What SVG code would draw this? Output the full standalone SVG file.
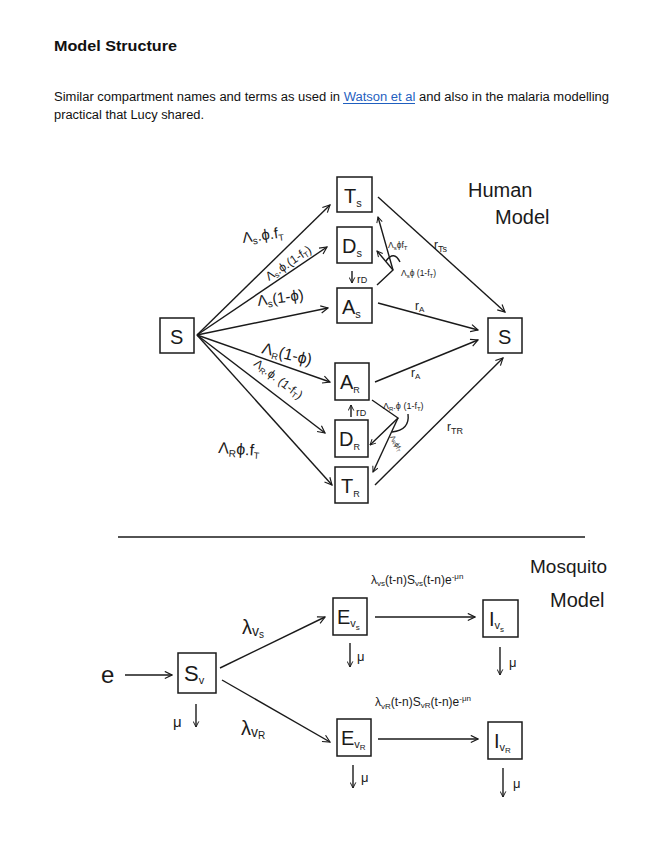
<svg xmlns="http://www.w3.org/2000/svg" width="672" height="866" viewBox="0 0 672 866">
<style>
.hw{font-family:"Liberation Sans","DejaVu Sans",sans-serif;fill:#1a1a1a}
.box{fill:none;stroke:#1a1a1a;stroke-width:1.5}
.ln{fill:none;stroke:#1a1a1a;stroke-width:1.4}
.doc{font-family:"Liberation Sans",Arial,sans-serif;fill:#111}
</style>
<defs>
<marker id="ah" viewBox="0 0 10 10" refX="9" refY="5" markerWidth="9" markerHeight="9" orient="auto" markerUnits="userSpaceOnUse"><path d="M1,1 L9,5 L1,9" fill="none" stroke="#1a1a1a" stroke-width="1.3"/></marker>
<marker id="ahs" viewBox="0 0 10 10" refX="9" refY="5" markerWidth="7" markerHeight="7" orient="auto" markerUnits="userSpaceOnUse"><path d="M1,1 L9,5 L1,9" fill="none" stroke="#1a1a1a" stroke-width="1.4"/></marker>
</defs>
<rect width="672" height="866" fill="#fff"/>
<g id="header">
<text class="doc" x="54" y="51" font-size="15.5" font-weight="bold" textLength="123" lengthAdjust="spacingAndGlyphs">Model Structure</text>
<text class="doc" x="54" y="101" font-size="12.5" textLength="555" lengthAdjust="spacingAndGlyphs">Similar compartment names and terms as used in <tspan fill="#1f5fbf">Watson et al</tspan> and also in the malaria modelling</text>
<line x1="343" y1="103.5" x2="415" y2="103.5" stroke="#1f5fbf" stroke-width="1"/>
<text class="doc" x="54" y="119" font-size="12.5" textLength="150" lengthAdjust="spacingAndGlyphs">practical that Lucy shared.</text>
</g>
<g id="human-label"><text class="hw" x="468" y="197" font-size="20">Human</text><text class="hw" x="495" y="224" font-size="20">Model</text></g>
<g id="S_left"><rect class="box" x="160" y="318" width="34" height="35"/><text class="hw" x="170" y="344" font-size="20">S</text></g>
<g id="T_s"><rect class="box" x="337" y="177" width="35" height="35"/><text class="hw" x="344" y="203" font-size="20">T<tspan font-size="11" dy="4">s</tspan></text></g>
<g id="D_s"><rect class="box" x="337" y="227" width="35" height="36"/><text class="hw" x="342" y="253" font-size="20">D<tspan font-size="11" dy="4">s</tspan></text></g>
<g id="A_s"><rect class="box" x="337" y="288" width="35" height="35"/><text class="hw" x="342" y="314" font-size="20">A<tspan font-size="11" dy="4">s</tspan></text></g>
<g id="S_right"><rect class="box" x="488" y="318" width="34" height="35"/><text class="hw" x="498" y="344" font-size="20">S</text></g>
<g id="A_R"><rect class="box" x="335" y="363" width="34" height="37"/><text class="hw" x="340" y="389" font-size="20">A<tspan font-size="9" dy="4">R</tspan></text></g>
<g id="D_R"><rect class="box" x="335" y="420" width="33" height="37"/><text class="hw" x="339" y="446" font-size="20">D<tspan font-size="9" dy="4">R</tspan></text></g>
<g id="T_R"><rect class="box" x="335" y="467" width="33" height="36"/><text class="hw" x="341" y="493" font-size="20">T<tspan font-size="9" dy="4">R</tspan></text></g>
<g id="S_v"><rect class="box" x="178" y="653" width="38" height="40"/><text class="hw" x="184" y="681" font-size="22">S<tspan font-size="11" dy="3">v</tspan></text></g>
<g id="E_vs"><rect class="box" x="333" y="598" width="34" height="37"/><text class="hw" x="337" y="624" font-size="20">E<tspan font-size="11" dy="3">v</tspan><tspan font-size="8" dy="3">s</tspan></text></g>
<g id="I_vs"><rect class="box" x="483" y="600" width="35" height="37"/><text class="hw" x="489" y="626" font-size="20">I<tspan font-size="11" dy="3">v</tspan><tspan font-size="8" dy="3">s</tspan></text></g>
<g id="E_vR"><rect class="box" x="337" y="719" width="34" height="37"/><text class="hw" x="341" y="745" font-size="20">E<tspan font-size="11" dy="3">v</tspan><tspan font-size="8" dy="2">R</tspan></text></g>
<g id="I_vR"><rect class="box" x="488" y="722" width="34" height="37"/><text class="hw" x="494" y="748" font-size="20">I<tspan font-size="11" dy="3">v</tspan><tspan font-size="8" dy="2">R</tspan></text></g>
<g id="mosquito-label"><text class="hw" x="530" y="573" font-size="19">Mosquito</text><text class="hw" x="550" y="607" font-size="20">Model</text></g>
<line x1="118" y1="537" x2="585" y2="537" stroke="#1a1a1a" stroke-width="1.3"/>
<g id="connectors">
<line class="ln" x1="197" y1="335" x2="330" y2="205" marker-end="url(#ah)"/>
<line class="ln" x1="197" y1="335" x2="327" y2="247" marker-end="url(#ah)"/>
<line class="ln" x1="197" y1="335" x2="328" y2="308" marker-end="url(#ah)"/>
<line class="ln" x1="197" y1="335" x2="330" y2="382" marker-end="url(#ah)"/>
<line class="ln" x1="197" y1="335" x2="325" y2="433" marker-end="url(#ah)"/>
<line class="ln" x1="197" y1="335" x2="332" y2="485" marker-end="url(#ah)"/>
<line class="ln" x1="378" y1="197" x2="505" y2="312" marker-end="url(#ah)"/>
<line class="ln" x1="378" y1="303" x2="478" y2="330" marker-end="url(#ah)"/>
<line class="ln" x1="375" y1="382" x2="478" y2="340" marker-end="url(#ah)"/>
<line class="ln" x1="375" y1="485" x2="503" y2="358" marker-end="url(#ah)"/>
<polyline class="ln" points="377,285 393,270 378,217" marker-end="url(#ahs)"/>
<line class="ln" x1="393" y1="270" x2="377" y2="251" marker-end="url(#ahs)"/>
<path class="ln" d="M386,261 Q394,250 400,262" stroke-width="1"/>
<polyline class="ln" points="372,400 398,418 370,445" marker-end="url(#ahs)"/>
<line class="ln" x1="398" y1="418" x2="373" y2="472" marker-end="url(#ahs)"/>
<path class="ln" d="M408,414 Q410,430 392,432" stroke-width="1"/>
<line class="ln" x1="352" y1="271" x2="352" y2="283" marker-end="url(#ahs)"/>
<line class="ln" x1="351" y1="417" x2="351" y2="405" marker-end="url(#ahs)"/>
<line class="ln" x1="125" y1="675" x2="172" y2="675" marker-end="url(#ah)"/>
<line class="ln" x1="220" y1="668" x2="325" y2="617" marker-end="url(#ah)"/>
<line class="ln" x1="222" y1="680" x2="330" y2="742" marker-end="url(#ah)"/>
<line class="ln" x1="375" y1="617" x2="475" y2="617" marker-end="url(#ah)"/>
<line class="ln" x1="378" y1="739" x2="478" y2="739" marker-end="url(#ah)"/>
<line class="ln" x1="196" y1="704" x2="196" y2="727" marker-end="url(#ahs)"/>
<line class="ln" x1="350" y1="643" x2="350" y2="667" marker-end="url(#ahs)"/>
<line class="ln" x1="500" y1="647" x2="500" y2="675" marker-end="url(#ahs)"/>
<line class="ln" x1="353" y1="765" x2="353" y2="788" marker-end="url(#ahs)"/>
<line class="ln" x1="503" y1="768" x2="503" y2="797" marker-end="url(#ahs)"/>
</g>
<g id="labels" class="hw">
<text x="243" y="243" font-size="15" transform="rotate(-8 243 243)">Λ<tspan font-size="10" dy="3">s</tspan><tspan dy="-3">.ϕ.f</tspan><tspan font-size="9" dy="3">T</tspan></text>
<text x="269" y="281" font-size="12" transform="rotate(-34 269 281)">Λ<tspan font-size="8" dy="2">s</tspan><tspan dy="-2">.ϕ.(1-f</tspan><tspan font-size="8" dy="2">T</tspan><tspan dy="-2">)</tspan></text>
<text x="258" y="306" font-size="15" transform="rotate(-8 258 306)">Λ<tspan font-size="10" dy="3">s</tspan><tspan dy="-3">(1-ϕ)</tspan></text>
<text x="261" y="353" font-size="16" transform="rotate(14 261 353)">Λ<tspan font-size="9" dy="3">R</tspan><tspan dy="-3">(1-ϕ)</tspan></text>
<text x="253" y="365" font-size="12" transform="rotate(37 253 365)">Λ<tspan font-size="8" dy="2">R</tspan><tspan dy="-2">.ϕ. (1-f</tspan><tspan font-size="8" dy="2">T</tspan><tspan dy="-2">)</tspan></text>
<text x="218" y="453" font-size="16" transform="rotate(4 218 453)">Λ<tspan font-size="10" dy="3">R</tspan><tspan dy="-3">ϕ.f</tspan><tspan font-size="9" dy="3">T</tspan></text>
<text x="357" y="283" font-size="11">r<tspan font-size="9">D</tspan></text>
<text x="356" y="416" font-size="11">r<tspan font-size="9">D</tspan></text>
<text x="388" y="248" font-size="8.5">Λ<tspan font-size="6" dy="2">s</tspan><tspan dy="-2">ϕf</tspan><tspan font-size="6" dy="2">T</tspan></text>
<text x="401" y="276" font-size="8.5">Λ<tspan font-size="6" dy="2">s</tspan><tspan dy="-2">ϕ (1-f</tspan><tspan font-size="6" dy="2">T</tspan><tspan dy="-2">)</tspan></text>
<text x="383" y="409" font-size="9">Λ<tspan font-size="6" dy="2">R</tspan><tspan dy="-2">.ϕ (1-f</tspan><tspan font-size="6" dy="2">T</tspan><tspan dy="-2">)</tspan></text>
<text x="390" y="437" font-size="7" transform="rotate(62 390 437)">Λ<tspan font-size="5" dy="1">R</tspan><tspan dy="-1">ϕf</tspan><tspan font-size="5" dy="1">T</tspan></text>
<text x="434" y="249" font-size="12">r<tspan font-size="9" dy="3">Ts</tspan></text>
<text x="415" y="310" font-size="12">r<tspan font-size="8" dy="2">A</tspan></text>
<text x="411" y="377" font-size="12">r<tspan font-size="8" dy="2">A</tspan></text>
<text x="447" y="431" font-size="12">r<tspan font-size="9" dy="3">TR</tspan></text>
<text x="101" y="683" font-size="24">e</text>
<text x="242" y="634" font-size="20">λ<tspan font-size="14" dy="2">v</tspan><tspan font-size="10" dy="2">s</tspan></text>
<text x="241" y="735" font-size="20">λ<tspan font-size="14" dy="2">v</tspan><tspan font-size="10" dy="2">R</tspan></text>
<text x="173" y="727" font-size="15">μ</text>
<text x="357" y="661" font-size="13">μ</text>
<text x="509" y="667" font-size="13">μ</text>
<text x="361" y="782" font-size="13">μ</text>
<text x="513" y="788" font-size="13">μ</text>
<text x="371" y="584" font-size="12">λ<tspan font-size="8" dy="2">vs</tspan><tspan dy="-2">(t-n)S</tspan><tspan font-size="8" dy="2">vs</tspan><tspan dy="-2">(t-n)e</tspan><tspan font-size="8" dy="-5">-μn</tspan></text>
<text x="375" y="706" font-size="12">λ<tspan font-size="8" dy="3">vR</tspan><tspan dy="-3">(t-n)S</tspan><tspan font-size="8" dy="2">vR</tspan><tspan dy="-2">(t-n)e</tspan><tspan font-size="8" dy="-5">-μn</tspan></text>
</g>
</svg>
